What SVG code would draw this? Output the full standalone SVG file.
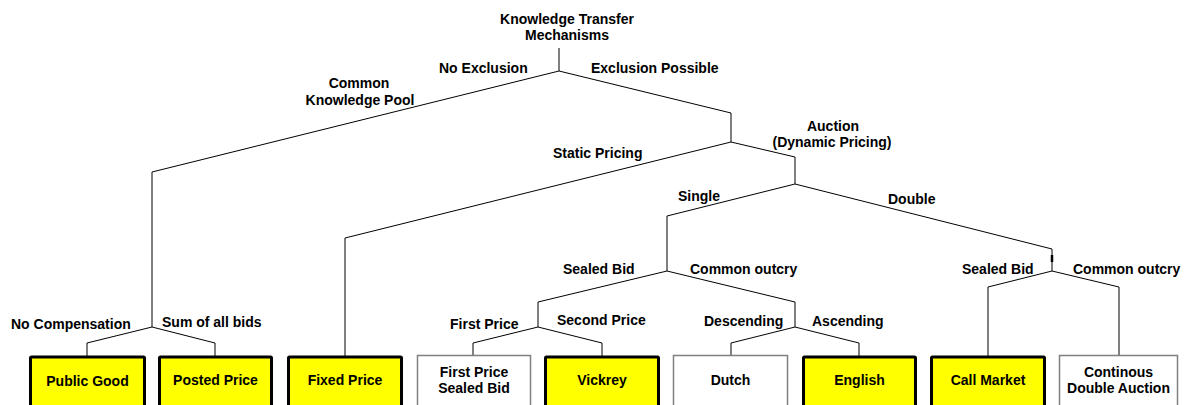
<svg xmlns="http://www.w3.org/2000/svg" width="1188" height="405" viewBox="0 0 1188 405">
<style>
text { font-family: "Liberation Sans", Arial, sans-serif; font-weight: bold; font-size: 14px; fill: #000; }
.c { text-anchor: middle; }
.edge { fill: none; stroke: #000; stroke-width: 1; }
.hi { fill: #ffff00; stroke: #000; stroke-width: 3; }
.lo { fill: #fff; stroke: #808080; stroke-width: 1.5; }
</style>
<rect x="0" y="0" width="1188" height="405" fill="#fff"/>
<g id="connectors">
  <polyline class="edge" points="559,48 559,71"/>
  <polyline class="edge" points="559,71 152,172 152,327"/>
  <polyline class="edge" points="87,356 87,343 152,327 215,343 215,356"/>
  <polyline class="edge" points="559,71 731,113 731,142"/>
  <polyline class="edge" points="345,356 345,238 731,142 795,157 795,184"/>
  <polyline class="edge" points="795,184 667,216 667,271"/>
  <polyline class="edge" points="667,271 538,302 538,327"/>
  <polyline class="edge" points="473,356 473,343 538,327 602,343 602,356"/>
  <polyline class="edge" points="667,271 795,302 795,327"/>
  <polyline class="edge" points="731,356 731,343 795,327 859,343 859,356"/>
  <polyline class="edge" points="795,184 1052,249 1052,271"/>
  <line x1="1052" y1="255" x2="1052" y2="262" stroke="#000" stroke-width="2.5"/>
  <polyline class="edge" points="988,356 988,287 1052,271 1119,287 1119,356"/>
</g>
<g id="labels">
  <text class="c" x="567" y="24">Knowledge Transfer</text>
  <text class="c" x="567" y="40">Mechanisms</text>
  <text x="439" y="73">No Exclusion</text>
  <text x="591" y="73">Exclusion Possible</text>
  <text class="c" x="359" y="88">Common</text>
  <text class="c" x="360" y="105">Knowledge Pool</text>
  <text x="553" y="158">Static Pricing</text>
  <text class="c" x="833" y="131">Auction</text>
  <text class="c" x="832" y="147">(Dynamic Pricing)</text>
  <text x="678" y="201">Single</text>
  <text x="888" y="204">Double</text>
  <text x="563" y="274">Sealed Bid</text>
  <text x="690" y="274">Common outcry</text>
  <text x="962" y="274">Sealed Bid</text>
  <text x="1073" y="274">Common outcry</text>
  <text x="11" y="329">No Compensation</text>
  <text x="162" y="327">Sum of all bids</text>
  <text x="450" y="329">First Price</text>
  <text x="557" y="325">Second Price</text>
  <text x="704" y="326">Descending</text>
  <text x="812" y="326">Ascending</text>
</g>
<g id="node-public-good">
  <rect class="hi" x="30.5" y="357" width="114" height="60" rx="1"/>
  <text class="c" x="87.5" y="386">Public Good</text>
</g>
<g id="node-posted-price">
  <rect class="hi" x="159.5" y="357" width="112" height="60" rx="1"/>
  <text class="c" x="215.5" y="385">Posted Price</text>
</g>
<g id="node-fixed-price">
  <rect class="hi" x="288.5" y="357" width="113" height="60" rx="1"/>
  <text class="c" x="345" y="385">Fixed Price</text>
</g>
<g id="node-fpsb">
  <rect class="lo" x="417.5" y="355.5" width="113" height="60"/>
  <text class="c" x="474" y="377">First Price</text>
  <text class="c" x="474" y="393">Sealed Bid</text>
</g>
<g id="node-vickrey">
  <rect class="hi" x="545.5" y="357" width="113" height="60" rx="1"/>
  <text class="c" x="602" y="385">Vickrey</text>
</g>
<g id="node-dutch">
  <rect class="lo" x="673.5" y="355.5" width="114" height="60"/>
  <text class="c" x="730.5" y="385">Dutch</text>
</g>
<g id="node-english">
  <rect class="hi" x="803.5" y="357" width="112" height="60" rx="1"/>
  <text class="c" x="859.5" y="385">English</text>
</g>
<g id="node-call-market">
  <rect class="hi" x="931.5" y="357" width="113" height="60" rx="1"/>
  <text class="c" x="988" y="385">Call Market</text>
</g>
<g id="node-cda">
  <rect class="lo" x="1059.5" y="355.5" width="118" height="60"/>
  <text class="c" x="1118.5" y="377">Continous</text>
  <text class="c" x="1118.5" y="393">Double Auction</text>
</g>
</svg>
